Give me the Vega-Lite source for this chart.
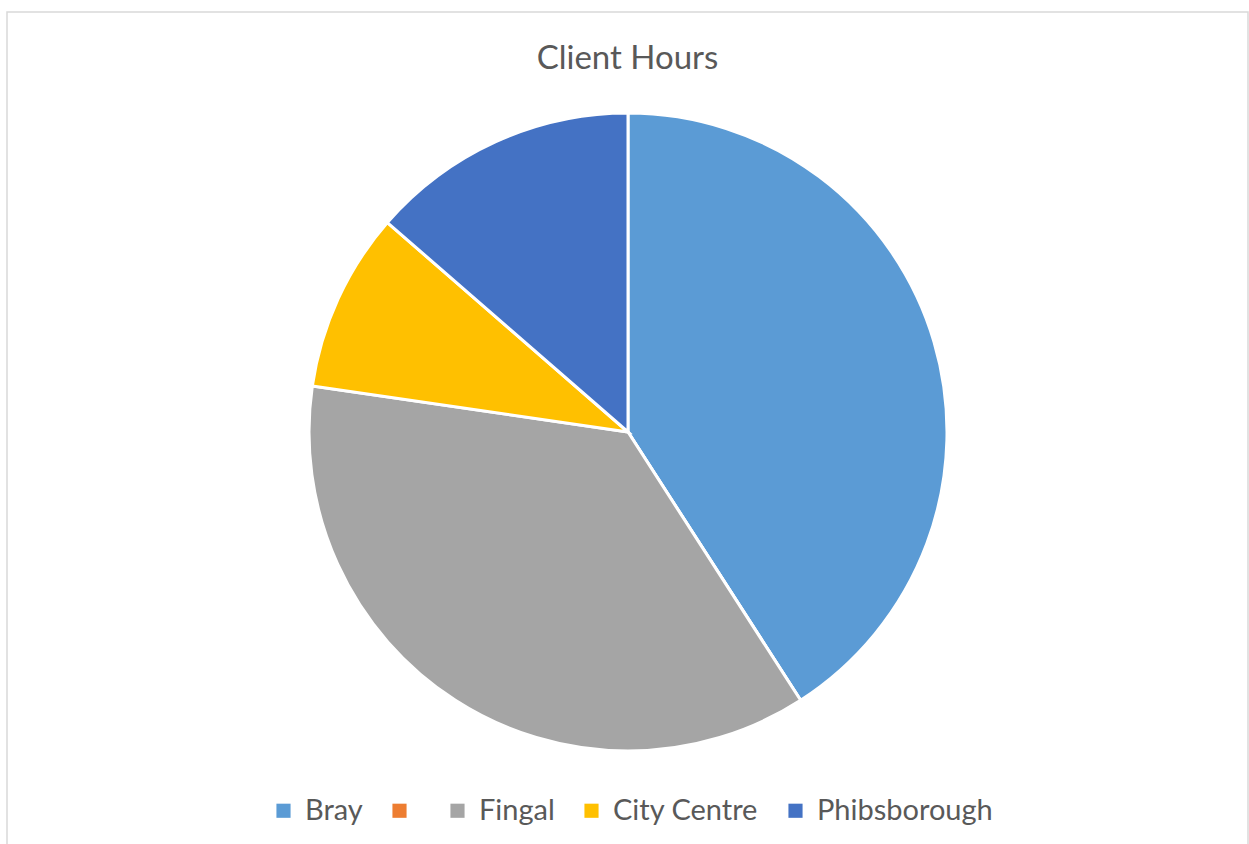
{
  "$schema": "https://vega.github.io/schema/vega-lite/v6.json",
  "width": 1241,
  "height": 836,
  "autosize": {"type": "none"},
  "padding": {"left": 7, "top": 12, "right": 1, "bottom": 0},
  "background": "white",
  "view": {"stroke": "#D9D9D9", "strokeWidth": 1.5, "fill": "white"},
  "title": {
    "text": "Client Hours",
    "font": "Lato",
    "fontSize": 33,
    "fontWeight": "normal",
    "color": "#595959",
    "anchor": "middle",
    "frame": "group",
    "baseline": "alphabetic",
    "offset": 0,
    "dy": 90
  },
  "data": {
    "values": [
      {"site": "Bray", "hours": 409, "seq": 1},
      {"site": " ", "hours": 0, "seq": 2},
      {"site": "Fingal", "hours": 364, "seq": 3},
      {"site": "City Centre", "hours": 91, "seq": 4},
      {"site": "Phibsborough", "hours": 136, "seq": 5}
    ]
  },
  "mark": {"type": "arc", "outerRadius": 319, "stroke": "white", "strokeWidth": 3, "yOffset": 2, "xOffset": 0.5},
  "encoding": {
    "theta": {"field": "hours", "type": "quantitative", "stack": true},
    "order": {"field": "seq", "type": "quantitative"},
    "color": {
      "field": "site",
      "type": "nominal",
      "scale": {
        "domain": ["Bray", " ", "Fingal", "City Centre", "Phibsborough"],
        "range": ["#5B9BD5", "#ED7D31", "#A5A5A5", "#FFC000", "#4472C4"]
      },
      "legend": {
        "title": null,
        "orient": "none",
        "direction": "horizontal",
        "legendX": 262,
        "legendY": 784,
        "padding": 0,
        "symbolType": "square",
        "symbolSize": 200,
        "symbolStrokeWidth": 0,
        "labelFont": "Lato",
        "labelFontSize": 29,
        "labelColor": "#595959",
        "labelOffset": 7,
        "labelLimit": 0,
        "columnPadding": 22,
        "labelExpr": "datum.label == ' ' ? '' : datum.label"
      }
    }
  },
  "config": {"font": "Lato"}
}
